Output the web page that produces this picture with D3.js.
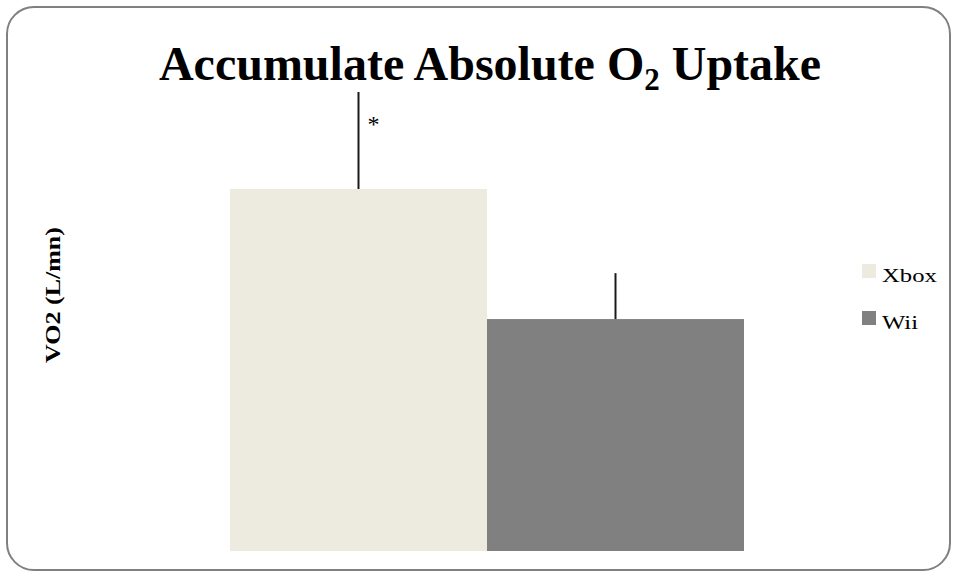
<!DOCTYPE html>
<html><head><meta charset="utf-8">
<script src="https://cdn.jsdelivr.net/npm/d3@7"></script>
<style>html,body{margin:0;padding:0;background:#fff;}svg{display:block;font-family:"Liberation Serif","Times New Roman",serif;}</style>
</head><body>
<script>
const categories = ["Xbox", "Wii"];
const values = [11.83, 7.58];
const errors = [3.17, 1.5];
const colors = ["#EDEBE0", "#808080"];
const yLabel = "VO2 (L/mn)";

const W = 958, H = 578;
const svg = d3.select("body").append("svg").attr("width", W).attr("height", H);
svg.append("rect").attr("x", 7).attr("y", 7).attr("width", 943).attr("height", 563)
  .attr("rx", 27).attr("ry", 27).attr("fill", "#fff").attr("stroke", "#808080").attr("stroke-width", 2);

const x = d3.scaleBand().domain(categories).range([230, 744]).padding(0);
const y = d3.scaleLinear().domain([0, 15]).range([551, 92]);

svg.selectAll("rect.bar").data(categories).enter().append("rect").attr("class", "bar")
  .attr("x", d => x(d)).attr("width", x.bandwidth())
  .attr("y", (d, i) => y(values[i])).attr("height", (d, i) => y(0) - y(values[i]))
  .attr("fill", (d, i) => colors[i]);

svg.selectAll("line.err").data(categories).enter().append("line").attr("class", "err")
  .attr("x1", d => x(d) + x.bandwidth() / 2).attr("x2", d => x(d) + x.bandwidth() / 2)
  .attr("y1", (d, i) => y(values[i])).attr("y2", (d, i) => y(values[i] + errors[i]))
  .attr("stroke", "#1a1a1a").attr("stroke-width", 2);

svg.append("text").attr("x", x("Xbox") + x.bandwidth() / 2 + 15).attr("y", y(values[0] + errors[0]) + 40)
  .attr("font-size", 24).attr("text-anchor", "middle").text("*");

const t = svg.append("text").attr("x", 490).attr("y", 80).attr("text-anchor", "middle")
  .attr("font-size", 48).attr("font-weight", "bold");
t.append("tspan").text("Accumulate Absolute O");
t.append("tspan").attr("font-size", 31).attr("dy", 10).text("2");
t.append("tspan").attr("dy", -10).text(" Uptake");

svg.append("text").attr("transform", "translate(60,295) rotate(-90) scale(1.3,1)").attr("text-anchor", "middle")
  .attr("font-size", 20).attr("font-weight", "bold").text(yLabel);

const leg = svg.selectAll("g.leg").data(categories).enter().append("g").attr("class", "leg")
  .attr("transform", (d, i) => `translate(862,${264 + i * 47})`);
leg.append("rect").attr("width", 14).attr("height", 14).attr("fill", (d, i) => colors[i]);
leg.append("text").attr("transform", "translate(20,18) scale(1.3,1)").attr("font-size", 19).text(d => d);
</script>
</body></html>
